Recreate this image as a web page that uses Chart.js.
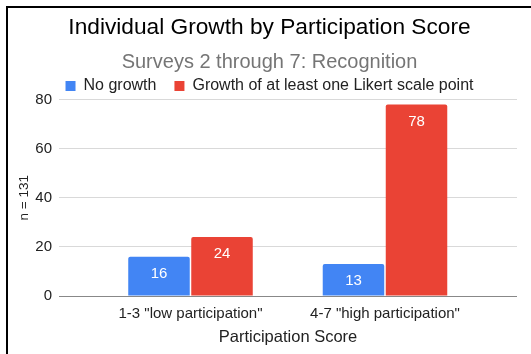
<!DOCTYPE html>
<html><head><meta charset="utf-8">
<script src="https://cdn.jsdelivr.net/npm/chart.js@4"></script>
<style>
html,body{margin:0;padding:0;background:#fff;width:531px;height:354px;overflow:hidden;}
#frame{position:absolute;left:6px;top:6px;width:525px;height:348px;border-left:2px solid #000;border-top:2px solid #000;}
#wrap{position:absolute;left:0;top:0;width:523px;height:346px;}
</style></head>
<body>
<div id="frame"><div id="wrap"><canvas id="c" width="523" height="346"></canvas></div></div>
<script>
const categories = ['1-3 "low participation"', '4-7 "high participation"'];
const noGrowth = [16, 13];
const growth = [24, 78];
const yTicks = [0, 20, 40, 60, 80];
const seriesNames = ['No growth', 'Growth of at least one Likert scale point'];

const FONT = '"Liberation Sans", Arial, sans-serif';

const labelPlugin = {
  id: 'barLabels',
  afterDatasetsDraw(chart) {
    const ctx = chart.ctx;
    ctx.save();
    ctx.fillStyle = '#ffffff';
    ctx.font = '15px ' + FONT;
    ctx.textAlign = 'center';
    ctx.textBaseline = 'middle';
    chart.data.datasets.forEach((ds, di) => {
      chart.getDatasetMeta(di).data.forEach((bar, i) => {
        ctx.fillText(String(ds.data[i].y), bar.x, bar.y + 17);
      });
    });
    ctx.restore();
  }
};

new Chart(document.getElementById('c'), {
  type: 'bar',
  data: {
    datasets: [
      { label: seriesNames[0], data: noGrowth.map((v, i) => ({ x: i + 1, y: v })), backgroundColor: '#4285F4', borderRadius: 2 },
      { label: seriesNames[1], data: growth.map((v, i) => ({ x: i + 1, y: v })), backgroundColor: '#EA4335', borderRadius: 2 }
    ]
  },
  options: {
    responsive: false,
    animation: false,
    devicePixelRatio: 1,
    categoryPercentage: 0.648,
    barPercentage: 0.976,
    layout: { padding: { left: 0, right: 0, top: 0, bottom: 2 } },
    plugins: {
      title: { display: true, text: 'Individual Growth by Participation Score', color: '#000', font: { family: FONT, size: 22.7, weight: 'normal' }, padding: { top: 6.5, bottom: 0 } },
      subtitle: { display: true, text: 'Surveys 2 through 7: Recognition', color: '#757575', font: { family: FONT, size: 20, weight: 'normal' }, padding: { top: 8.5, bottom: -14.2 } },
      legend: { display: true, maxHeight: 39.5, labels: { boxWidth: 10, boxHeight: 10, padding: 18, color: '#222', font: { family: FONT, size: 16 } } },
      tooltip: { enabled: false }
    },
    scales: {
      x: {
        type: 'linear',
        offset: false,
        min: 0.3239,
        max: 2.6787,
        afterBuildTicks(scale) { scale.ticks = categories.map((c, i) => ({ value: i + 1 })); },
        ticks: { callback: (v) => categories[Math.round(v) - 1] || '', color: '#222', font: { family: FONT, size: 15 }, padding: 9, maxRotation: 0, autoSkip: false },
        grid: { display: false, drawTicks: false },
        border: { display: false },
        title: { display: true, text: 'Participation Score', color: '#222', font: { family: FONT, size: 16.5 }, padding: { top: -4.8, bottom: 5 } }
      },
      y: {
        min: 0, max: 80,
        afterBuildTicks(scale) { scale.ticks = yTicks.map(v => ({ value: v })); },
        afterFit(scale) { scale.width = 51; },
        ticks: { color: '#222', font: { family: FONT, size: 15 }, padding: 7 },
        grid: { drawTicks: false, color: (c) => c.tick && c.tick.value === 0 ? '#888' : '#d9d9d9', lineWidth: 1 },
        border: { display: false },
        title: { display: true, text: 'n = 131', color: '#222', font: { family: FONT, size: 13.5 }, padding: { top: 8.3, bottom: 0 } }
      },
      yRight: {
        position: 'right',
        display: true,
        afterFit(scale) { scale.width = 14; },
        ticks: { display: false },
        grid: { display: false, drawTicks: false },
        border: { display: false }
      }
    }
  },
  plugins: [labelPlugin]
});
</script>
</body></html>
